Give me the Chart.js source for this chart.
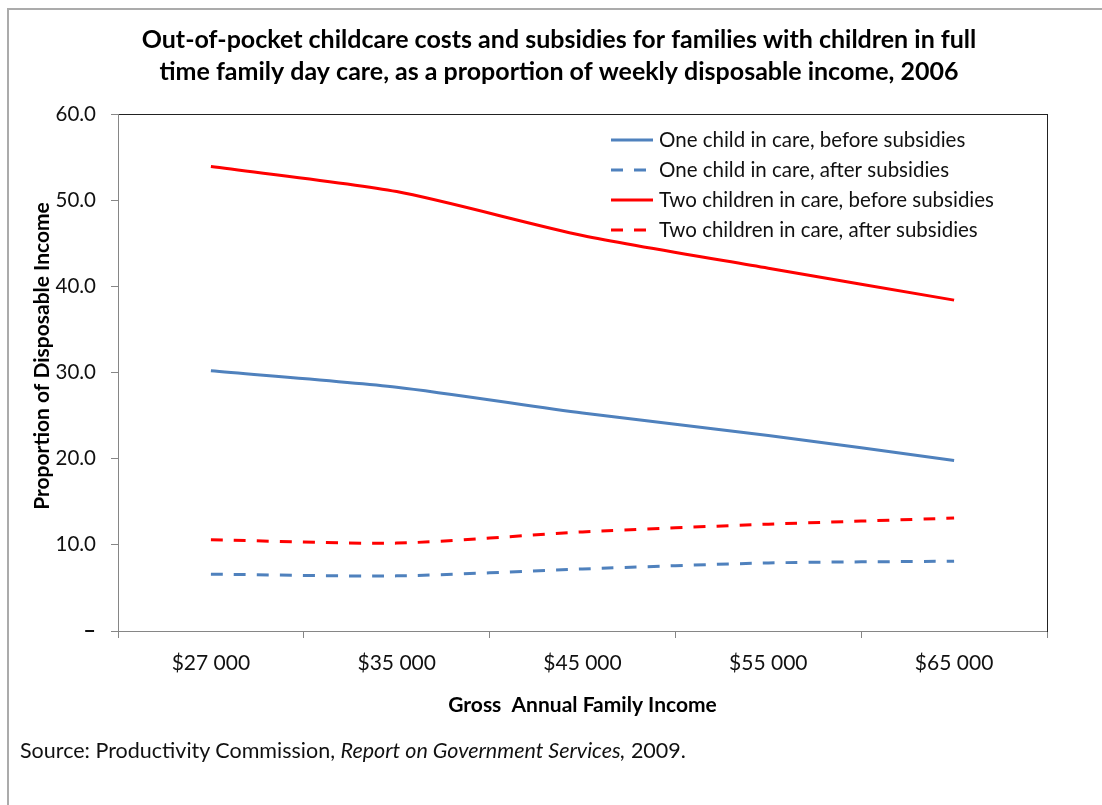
<!DOCTYPE html>
<html>
<head>
<meta charset="utf-8">
<script src="https://cdn.jsdelivr.net/npm/chart.js@4/dist/chart.umd.min.js"></script>
<style>
  html, body { margin: 0; padding: 0; background: #ffffff; overflow: hidden; }
  #frame { position: absolute; left: 7px; top: 8px; width: 1200px; height: 900px; border: 2px solid #ababab; box-sizing: border-box; }
  #wrap { position: absolute; left: 0; top: 0; width: 1102px; height: 805px; }
  #source { position: absolute; left: 20px; top: 736px; font-family: Lato, "Open Sans", sans-serif; font-size: 21.5px; line-height: 28px; color: #111; white-space: nowrap; }
</style>
</head>
<body>
<div id="frame"></div>
<div id="wrap"><canvas id="c"></canvas></div>
<div id="source">Source: Productivity Commission, <i>Report on Government Services,</i> 2009.</div>
<script>
const categories = ['$27 000', '$35 000', '$45 000', '$55 000', '$65 000'];
const oneChildBefore = [30.2, 28.3, 25.3, 22.7, 19.8];
const oneChildAfter = [6.6, 6.4, 7.2, 7.9, 8.1];
const twoChildrenBefore = [53.9, 51.0, 45.9, 42.1, 38.4];
const twoChildrenAfter = [10.6, 10.2, 11.5, 12.4, 13.1];
const seriesNames = [
  'One child in care, before subsidies',
  'One child in care, after subsidies',
  'Two children in care, before subsidies',
  'Two children in care, after subsidies'
];
const titleLines = [
  'Out-of-pocket childcare costs and subsidies for families with children in full',
  'time family day care, as a proportion of weekly disposable income, 2006'
];
const yTitle = 'Proportion of Disposable Income';
const xTitle = 'Gross  Annual Family Income';

const FONT = 'Lato, "Open Sans", sans-serif';
const BLUE = '#4F81BD';
const RED = '#FF0000';
const AXIS = '#868686';
const DASH = [12, 11];

function ds(label, data, color, dashed) {
  return {
    label: label,
    data: data,
    borderColor: color,
    backgroundColor: color,
    borderWidth: 3,
    borderDash: dashed ? DASH : [],
    pointRadius: 0,
    pointHoverRadius: 0,
    tension: 0.25,
    fill: false
  };
}

// Legend drawn inside the plot area, top right, with dashed samples
const insideLegend = {
  id: 'insideLegend',
  afterDatasetsDraw(chart) {
    const ctx = chart.ctx;
    const x0 = 611, sampleW = 42, textX = 659, y0 = 140, step = 30;
    ctx.save();
    chart.data.datasets.forEach((d, i) => {
      const y = y0 + i * step;
      ctx.beginPath();
      ctx.setLineDash(d.borderDash || []);
      ctx.lineDashOffset = 0;
      ctx.lineWidth = d.borderWidth;
      ctx.strokeStyle = d.borderColor;
      ctx.moveTo(x0, y);
      ctx.lineTo(x0 + sampleW, y);
      ctx.stroke();
      ctx.setLineDash([]);
      ctx.fillStyle = '#111';
      ctx.font = '20.5px ' + FONT;
      ctx.textBaseline = 'middle';
      ctx.textAlign = 'left';
      ctx.fillText(d.label, textX, y);
    });
    ctx.restore();
  }
};

// Y-axis title, rotated, placed as in the reference
const yAxisTitle = {
  id: 'yAxisTitle',
  afterDraw(chart) {
    const ctx = chart.ctx;
    ctx.save();
    ctx.translate(42, 356);
    ctx.rotate(-Math.PI / 2);
    ctx.font = 'bold 21px ' + FONT;
    ctx.fillStyle = '#000';
    ctx.textAlign = 'center';
    ctx.textBaseline = 'middle';
    ctx.fillText(yTitle, 0, 0);
    ctx.restore();
  }
};

new Chart(document.getElementById('c'), {
  type: 'line',
  data: {
    labels: categories,
    datasets: [
      ds(seriesNames[0], oneChildBefore, BLUE, false),
      ds(seriesNames[1], oneChildAfter, BLUE, true),
      ds(seriesNames[2], twoChildrenBefore, RED, false),
      ds(seriesNames[3], twoChildrenAfter, RED, true)
    ]
  },
  options: {
    responsive: true,
    maintainAspectRatio: false,
    animation: false,
    layout: { padding: { left: 16, top: 8, right: 0, bottom: 74 } },
    plugins: {
      tooltip: { enabled: false },
      legend: { display: false },
      title: {
        display: true,
        text: titleLines,
        color: '#000',
        font: { family: FONT, size: 25, weight: 'bold', lineHeight: 32 / 25 },
        padding: { top: 16, bottom: 26 }
      }
    },
    scales: {
      x: {
        type: 'category',
        position: 'bottom',
        offset: true,
        afterFit(s) { s.height = 100; },
        grid: { display: true, drawOnChartArea: false, drawTicks: true, tickLength: 7, color: AXIS, offset: true },
        border: { display: true, color: AXIS, width: 1 },
        ticks: { color: '#111', font: { family: FONT, size: 21 }, padding: 13, maxRotation: 0, autoSkip: false },
        title: { display: true, text: xTitle, color: '#000', font: { family: FONT, size: 21, weight: 'bold' }, padding: { top: 0, bottom: 13 } }
      },
      x2: {
        type: 'category',
        position: 'top',
        afterFit(s) { s.height = 0; },
        grid: { display: false },
        border: { display: true, color: '#222', width: 1 },
        ticks: { display: false }
      },
      y: {
        type: 'linear',
        position: 'left',
        min: 0,
        max: 60,
        afterFit(s) { s.width = 102; },
        grid: { display: true, drawOnChartArea: false, drawTicks: true, tickLength: 7, color: AXIS },
        border: { display: true, color: AXIS, width: 1 },
        ticks: {
          stepSize: 10,
          padding: 15,
          color: '#111',
          font: (c) => (c.tick && c.tick.value === 0
            ? { family: FONT, size: 22, weight: 'bold' }
            : { family: FONT, size: 20.5 }),
          callback: (v) => (v === 0 ? '\u2013' : Number(v).toFixed(1))
        },
        title: { display: false }
      },
      y2: {
        type: 'linear',
        position: 'right',
        min: 0,
        max: 60,
        afterFit(s) { s.width = 55; },
        grid: { display: false },
        border: { display: true, color: '#222', width: 1 },
        ticks: { display: false }
      }
    }
  },
  plugins: [insideLegend, yAxisTitle]
});
</script>
</body>
</html>
